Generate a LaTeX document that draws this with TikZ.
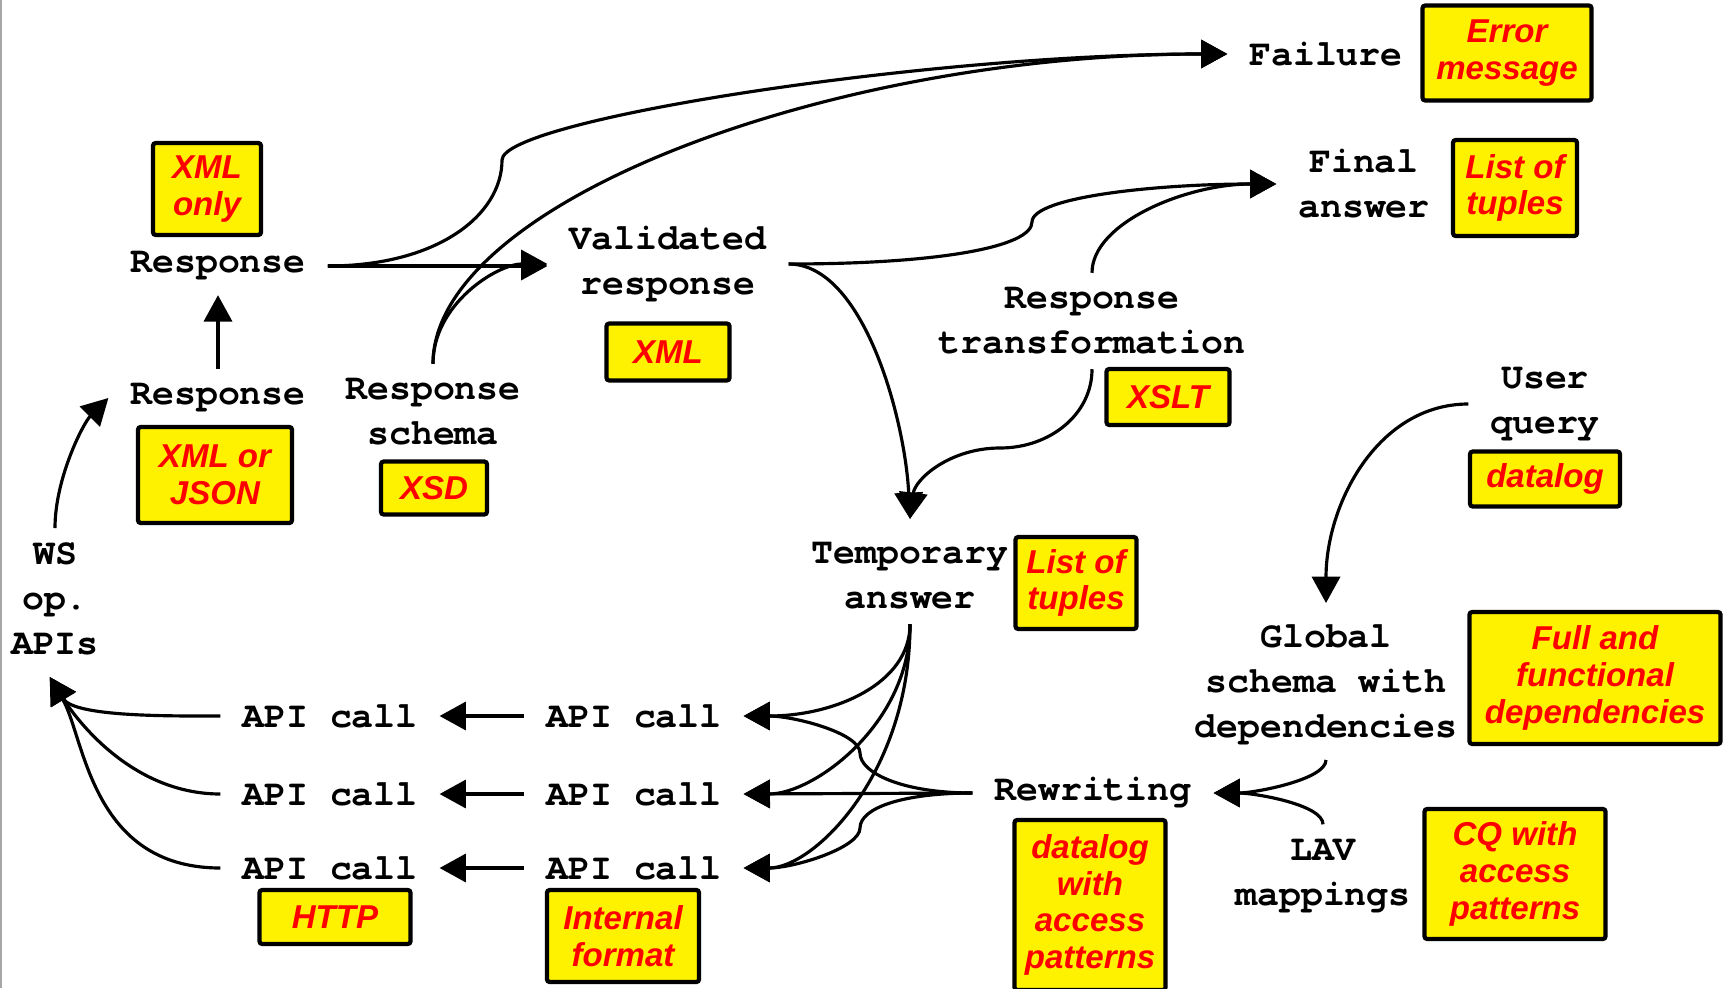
\documentclass[tikz,border=0pt]{standalone}
\usepackage{fontspec}
\setmonofont{TeX Gyre Cursor}
\newfontfamily\tagfont{Liberation Sans}
\usetikzlibrary{arrows.meta}

\begin{document}
\begin{tikzpicture}[x=0.01cm, y=-0.01cm,
  stage/.style={font=\fontsize{10.4}{12.8}\selectfont\ttfamily\bfseries,
    align=center, inner xsep=6pt, inner ysep=4pt},
  tag/.style={draw, line width=1.2pt, rounded corners=0.8pt, fill=yellow,
    text=red, font=\fontsize{9.4}{10.4}\selectfont\tagfont\bfseries\itshape,
    align=center, inner sep=0pt},
  flow/.style={line width=0.9pt, -{Triangle[length=7.5pt,width=8pt]}}]

\fill[white] (0,0) rectangle (1725,988);
\useasboundingbox (0,0) rectangle (1725,988);
\draw[gray!70, line width=0.8pt] (1,0) -- (1,988);

% stages
\node[stage] (failure) at (1326,54) {Failure};
\node[stage] (final) at (1364,184) {Final\\answer};
\node[stage] (resp2) at (218,266) {Response};
\node[stage] (valid) at (668,264) {Validated\\response};
\node[stage] (resp1) at (218,398) {Response};
\node[stage] (schema) at (433,412) {Response\\schema};
\node[stage] (transf) at (1092,321) {Response\\transformation};
\node[stage] (temp) at (910,576) {Temporary\\answer};
\node[stage] (query) at (1545,404) {User\\query};
\node[stage] (global) at (1326,685) {Global\\schema with\\dependencies};
\node[stage] (rewrite) at (1093,793) {Rewriting};
\node[stage] (lav) at (1323,876) {LAV\\mappings};
\node[stage] (ws) at (55,599) {WS\\op.\\APIs};
\foreach \y [count=\i] in {716,794,868}
{
  \node[stage] (apicall\i) at (330,\y) {API call};
  \node[stage] (intcall\i) at (634,\y) {API call};
}

% formats
\node[tag, minimum width=1.69cm, minimum height=0.95cm] (errbox) at (1507,53) {Error\\message};
\node[tag, minimum width=1.24cm, minimum height=0.96cm] (finalbox) at (1515,188) {List of\\tuples};
\node[tag, minimum width=1.08cm, minimum height=0.92cm] (onlybox) at (207,189) {XML\\only};
\node[tag, minimum width=1.54cm, minimum height=0.96cm] (jsonbox) at (215,475) {XML or\\JSON};
\node[tag, minimum width=1.06cm, minimum height=0.53cm] (xsdbox) at (434,488) {XSD};
\node[tag, minimum width=1.23cm, minimum height=0.57cm] (xmlbox) at (668,352) {XML};
\node[tag, minimum width=1.23cm, minimum height=0.56cm] (xsltbox) at (1168,397) {XSLT};
\node[tag, minimum width=1.21cm, minimum height=0.92cm] (tempbox) at (1076,583) {List of\\tuples};
\node[tag, minimum width=1.50cm, minimum height=0.55cm] (querybox) at (1545,479) {datalog};
\node[tag, minimum width=2.51cm, minimum height=1.32cm] (fdbox) at (1595,678) {Full and\\functional\\dependencies};
\node[tag, minimum width=1.51cm, minimum height=1.70cm] (rwbox) at (1090,905) {datalog\\with\\access\\patterns};
\node[tag, minimum width=1.81cm, minimum height=1.30cm] (cqbox) at (1515,874) {CQ with\\access\\patterns};
\node[tag, minimum width=1.51cm, minimum height=0.54cm] (httpbox) at (335,917) {HTTP};
\node[tag, minimum width=1.52cm, minimum height=0.92cm] (intbox) at (623,936) {Internal\\format};

% bends of the connectors
\coordinate (bend1) at (502,160);
\coordinate (bend2) at (1032,222);
\coordinate (bend3) at (1000,448);
\coordinate (kinkup) at (860,753);
\coordinate (kinkdown) at (860,828);
\coordinate (wstip) at ([xshift=-1.5pt,yshift=-2pt]ws.south);

% validation
\draw[flow] (resp1.north) .. controls +(0,-30) and +(0,25) .. (resp2.south);
\draw[flow] (ws.north) .. controls +(0,-50) and +(-25,25) .. (resp1.west);
\draw[flow] (resp2.east) -- (resp2.east -| valid.west);
\draw[flow] (resp2.east) .. controls +(110,0) and +(0,55) .. (bend1)
  .. controls +(0,-40) and +(-300,0) .. (failure.west);
\draw[flow] (schema.north) .. controls +(0,-160) and +(-400,0) .. (failure.west);
\draw[flow] (schema.north) .. controls +(0,-60) and +(-50,0) .. (valid.west);

% transformation
\draw[flow] (valid.east) .. controls +(150,0) and +(0,25) .. (bend2)
  .. controls +(0,-25) and +(-120,0) .. (final.west);
\draw[flow] (transf.north) .. controls +(0,-50) and +(-90,0) .. (final.west);
\draw[flow] (valid.east) .. controls +(75,0) and +(-5,-100) .. ([yshift=2.5pt]temp.north);
\draw[flow] (transf.south) .. controls +(0,45) and +(50,0) .. (bend3)
  .. controls +(-50,0) and +(5,-40) .. ([yshift=2.5pt]temp.north);

% rewriting
\draw[flow] (query.west) .. controls +(-90,0) and +(0,-100) .. ([yshift=2pt]global.north);
\draw[flow] (global.south) .. controls +(0,20) and +(40,0) .. (rewrite.east);
\draw[flow] (lav.north) .. controls +(0,-20) and +(40,0) .. (rewrite.east);
\draw[flow] (rewrite.west) .. controls +(-70,0) and +(0,20) .. (kinkup)
  .. controls +(0,-20) and +(50,0) .. (intcall1.east);
\draw[flow] (rewrite.west) -- (intcall2.east);
\draw[flow] (rewrite.west) .. controls +(-70,0) and +(0,-20) .. (kinkdown)
  .. controls +(0,20) and +(50,0) .. (intcall3.east);

\draw[flow] (temp.south) .. controls +(0,60) and +(90,0) .. (intcall1.east);
\draw[flow] (temp.south) .. controls +(0,100) and +(70,0) .. (intcall2.east);
\draw[flow] (temp.south) .. controls +(0,150) and +(70,0) .. (intcall3.east);

% calls
\foreach \i in {1,2,3}
{
  \draw[flow] (intcall\i.west) -- (apicall\i.east);
}
\draw[flow] (apicall1.west) .. controls +(-50,0) and +(25,40) .. (wstip);
\draw[flow] (apicall2.west) .. controls +(-90,0) and +(25,40) .. (wstip);
\draw[flow] (apicall3.west) .. controls +(-130,0) and +(35,60) .. (wstip);
\end{tikzpicture}
\end{document}
